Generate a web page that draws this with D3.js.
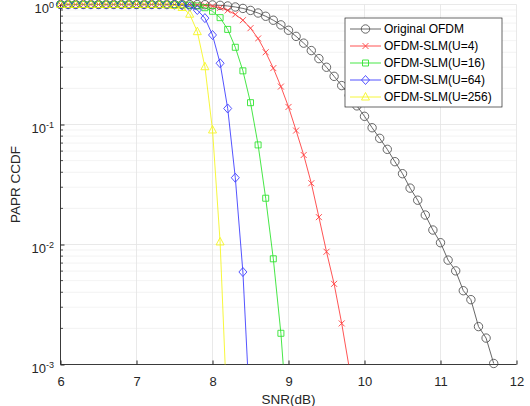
<!DOCTYPE html>
<html>
<head>
<meta charset="utf-8">
<script src="https://cdn.jsdelivr.net/npm/d3@7"></script>
<style>
  html, body { margin: 0; padding: 0; background: #fff; }
  svg { display: block; font-family: "Liberation Sans", Arial, Helvetica, sans-serif; }
</style>
</head>
<body>
<svg id="chart" width="530" height="406"></svg>
<script>
// ---------------- data ----------------
const snr = [6.0,6.1,6.2,6.3,6.4,6.5,6.6,6.7,6.8,6.9,
             7.0,7.1,7.2,7.3,7.4,7.5,7.6,7.7,7.8,7.9,
             8.0,8.1,8.2,8.3,8.4,8.5,8.6,8.7,8.8,8.9,
             9.0,9.1,9.2,9.3,9.4,9.5,9.6,9.7,9.8,9.9,
             10.0,10.1,10.2,10.3,10.4,10.5,10.6,10.7,10.8,10.9,
             11.0,11.1,11.2,11.3,11.4,11.5,11.6,11.7];

const originalOFDM = [1,1,1,1,1,1,1,1,1,1,
                      1,1,1,1,1,1,0.9998,0.9994,0.9983,0.9962,
                      0.9919,0.9844,0.9721,0.9535,0.9274,0.8928,0.8494,0.7979,0.7394,0.6763,
                      0.6098,0.5425,0.4763,0.4131,0.354,0.300,0.252,0.211,0.175,0.143,
                      0.117,0.094,0.0767,0.0621,0.0490,0.0389,0.0295,0.0234,0.0176,0.0132,
                      0.01035,0.00741,0.00603,0.00412,0.00347,0.00207,0.00166,0.00102];

const slmU4 = [1,1,1,1,1,1,1,1,1,1,
               1,1,1,1,1,0.9997,0.9991,0.9974,0.9934,0.9847,
               0.968,0.939,0.893,0.827,0.740,0.635,0.521,0.400,0.295,0.207,
               0.140,0.089,0.0557,0.0324,0.0169,0.0087,0.0047,0.0022,0.00093];

const slmU16 = [1,1,1,1,1,1,1,1,1,1,
                1,1,1,1,1,0.9989,0.9964,0.9897,0.9738,0.9403,
                0.8782,0.7771,0.620,0.440,0.280,0.152,0.0676,0.0243,0.0076,0.00182,
                0.00025];

const slmU64 = [1,1,1,1,1,1,1,1,1,1,
                1,1,1,1,0.9988,0.9956,0.9857,0.9595,0.8992,0.770,
                0.557,0.324,0.136,0.036,0.0059,0.00032];

const slmU256 = [1,1,1,1,1,1,1,1,1,1,
                 1,1,0.9998,0.9989,0.9952,0.9823,0.944,0.830,0.594,0.303,
                 0.090,0.0105,0.0003];

const seriesNames = ["Original OFDM","OFDM-SLM(U=4)","OFDM-SLM(U=16)","OFDM-SLM(U=64)","OFDM-SLM(U=256)"];
const seriesValues = [originalOFDM, slmU4, slmU16, slmU64, slmU256];
const seriesColors = ["#3a3a3a","#ff2020","#10e010","#2020ff","#f5f500"];
const seriesMarkers = ["circle","x","square","diamond","triangle"];

const xTicks = [6,7,8,9,10,11,12];
const yTickExps = [0,-1,-2,-3];

// ---------------- layout ----------------
const svg = d3.select("#chart");
const L = 60.5, R = 516.5, T = 4.5, B = 364.5;
const x = d3.scaleLinear().domain([6,12]).range([L,R]);
const y = d3.scaleLog().domain([1e-3,1]).range([B,T]);
const axisColor = "#262626";

// grid
const grid = svg.append("g");
const minorVals = [];
[-3,-2,-1].forEach(e => { for (let k=2;k<=9;k++) minorVals.push(k*Math.pow(10,e)); });
grid.selectAll("line.minor").data(minorVals).enter().append("line")
  .attr("x1",L).attr("x2",R).attr("y1",d=>y(d)).attr("y2",d=>y(d))
  .attr("stroke","#f0f0f0").attr("stroke-width",0.8);
grid.selectAll("line.hmaj").data(yTickExps.map(e=>Math.pow(10,e))).enter().append("line")
  .attr("x1",L).attr("x2",R).attr("y1",d=>y(d)).attr("y2",d=>y(d))
  .attr("stroke","#e3e3e3").attr("stroke-width",0.8);
grid.selectAll("line.vmaj").data(xTicks).enter().append("line")
  .attr("y1",T).attr("y2",B).attr("x1",d=>x(d)).attr("x2",d=>x(d))
  .attr("stroke","#e3e3e3").attr("stroke-width",0.8);

// axes
const xAxis = d3.axisBottom(x).tickValues(xTicks).tickSize(-4).tickPadding(12).tickFormat(d3.format("d"));
const gx = svg.append("g").attr("transform",`translate(0,${B})`).call(xAxis);
gx.select(".domain").attr("stroke",axisColor).attr("stroke-width",0.9).attr("d",`M${L},0H${R}`);
gx.selectAll(".tick line").attr("stroke",axisColor);
gx.selectAll(".tick text").attr("fill",axisColor).attr("font-size",13)
  .attr("font-family","'Liberation Sans', Arial, sans-serif");

const yAxis = d3.axisLeft(y).tickValues(yTickExps.map(e=>Math.pow(10,e))).tickSize(-4).tickFormat("");
const gy = svg.append("g").attr("transform",`translate(${L},0)`).call(yAxis);
gy.select(".domain").attr("stroke",axisColor).attr("stroke-width",0.9).attr("d",`M0,${T}V${B}`);
gy.selectAll(".tick line").attr("stroke",axisColor);
// minor ticks
gy.selectAll("line.mt").data(minorVals).enter().append("line")
  .attr("x1",0).attr("x2",2.5).attr("y1",d=>y(d)).attr("y2",d=>y(d))
  .attr("stroke",axisColor).attr("stroke-width",0.8);

// y tick labels with superscripts
yTickExps.forEach(e => {
  const t = svg.append("text")
    .attr("x", 54).attr("y", y(Math.pow(10,e)) + 8.5)
    .attr("text-anchor","end").attr("fill",axisColor).attr("font-size",13);
  t.append("tspan").text("10");
  t.append("tspan").attr("dy",-5).attr("font-size",9).text(String(e));
});

// axis labels
svg.append("text").attr("x",(L+R)/2).attr("y",404).attr("text-anchor","middle")
  .attr("fill",axisColor).attr("font-size",13.5).text("SNR(dB)");
svg.append("text").attr("transform",`translate(20,${(T+B)/2}) rotate(-90)`)
  .attr("text-anchor","middle").attr("fill",axisColor).attr("font-size",13.5).text("PAPR CCDF");

// clip
svg.append("defs").append("clipPath").attr("id","clip").append("rect")
  .attr("x",L).attr("y",T).attr("width",R-L).attr("height",B-T);

function markerPath(type){
  switch(type){
    case "x": return "M-3,-3L3,3M-3,3L3,-3";
    case "square": return "M-3,-3H3V3H-3Z";
    case "diamond": return "M0,-4.5L4,0L0,4.5L-4,0Z";
    case "triangle": return "M0,-4.5L4,3L-4,3Z";
  }
  return null;
}
function drawMarker(g, type, color){
  if (type === "circle") {
    g.append("circle").attr("r",4.2).attr("fill","none").attr("stroke",color).attr("stroke-width",0.9);
  } else {
    g.append("path").attr("d",markerPath(type)).attr("fill","none").attr("stroke",color).attr("stroke-width",0.9);
  }
}

const line = d3.line().x(d=>x(d[0])).y(d=>y(Math.max(d[1],1e-6)));

seriesValues.forEach((vals,i) => {
  const pts = vals.map((v,j)=>[snr[j],v]);
  const sg = svg.append("g").attr("opacity",0.85);
  sg.append("path").datum(pts).attr("clip-path","url(#clip)")
    .attr("d",line).attr("fill","none").attr("stroke",seriesColors[i]).attr("stroke-width",0.9);
  const vis = pts.filter(p=>p[1] >= 1e-3*0.999);
  vis.forEach(p => {
    const g = sg.append("g").attr("transform",`translate(${x(p[0])},${y(p[1])})`);
    drawMarker(g, seriesMarkers[i], seriesColors[i]);
  });
});

// legend
const lg = svg.append("g");
const lx = 345, ly = 18, lw = 157, lh = 89;
lg.append("rect").attr("x",lx).attr("y",ly).attr("width",lw).attr("height",lh)
  .attr("fill","#fff").attr("stroke","#262626").attr("stroke-width",0.7);
seriesNames.forEach((name,i) => {
  const yy = 29 + i*17;
  const g0 = lg.append("g").attr("opacity",0.85);
  g0.append("line").attr("x1",350).attr("x2",381).attr("y1",yy).attr("y2",yy)
    .attr("stroke",seriesColors[i]).attr("stroke-width",0.9);
  const g = g0.append("g").attr("transform",`translate(365.5,${yy})`);
  drawMarker(g, seriesMarkers[i], seriesColors[i]);
  lg.append("text").attr("x",384).attr("y",yy).attr("dy","0.35em")
    .attr("font-size",12).attr("fill","#000").text(name);
});
</script>
</body>
</html>
